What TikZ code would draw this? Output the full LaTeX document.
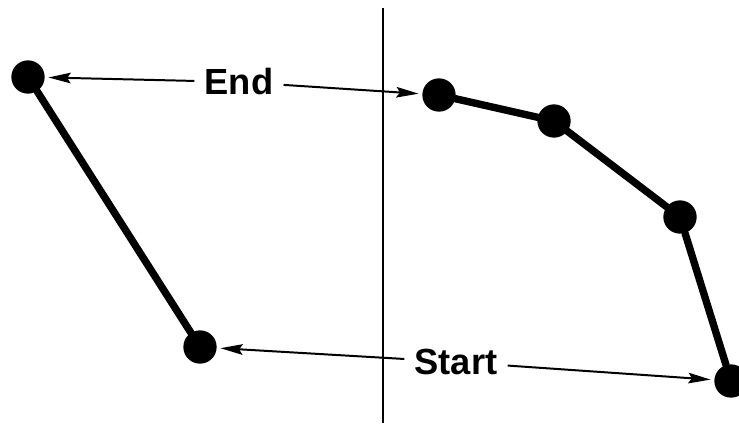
\documentclass[tikz,border=0pt]{standalone}
\usepackage{fontspec}
\setmainfont{Liberation Sans}
\usetikzlibrary{arrows.meta}

\tikzset{
  dot/.style={circle,fill=black,inner sep=0pt,minimum size=1.0cm},
  joint/.style={line width=6.3pt,line cap=round},
  lbl/.style={font=\bfseries\fontsize{31}{33}\selectfont,inner sep=0.3cm},
  pointer/.style={line width=1.7pt,-{Stealth[length=19pt,width=9pt,inset=3pt]},shorten >=3pt},
}

\begin{document}
\begin{tikzpicture}[x=0.03cm,y=-0.03cm]
  \useasboundingbox (0,0) rectangle (739,423);
  % divider
  \draw[line width=2.2pt] (383,8) -- (383,423);
  % left chain
  \node[dot] (l1) at (28,77) {};
  \node[dot] (l2) at (200,347) {};
  \draw[joint] (l1) -- (l2);
  % right chain
  \node[dot] (r1) at (439,95) {};
  \node[dot] (r2) at (554,121) {};
  \node[dot] (r3) at (680,217) {};
  \node[dot] (r4) at (731,381) {};
  \draw[joint] (r1) -- (r2) -- (r3) -- (r4);
  % labels
  \node[lbl] (endlbl) at (239,82) {End};
  \node[lbl] (startlbl) at (456,362) {Start};
  \draw[pointer] (endlbl) -- (l1);
  \draw[pointer] (endlbl) -- (r1);
  \draw[pointer] (startlbl) -- (l2);
  \draw[pointer] (startlbl) -- (r4);
\end{tikzpicture}
\end{document}
